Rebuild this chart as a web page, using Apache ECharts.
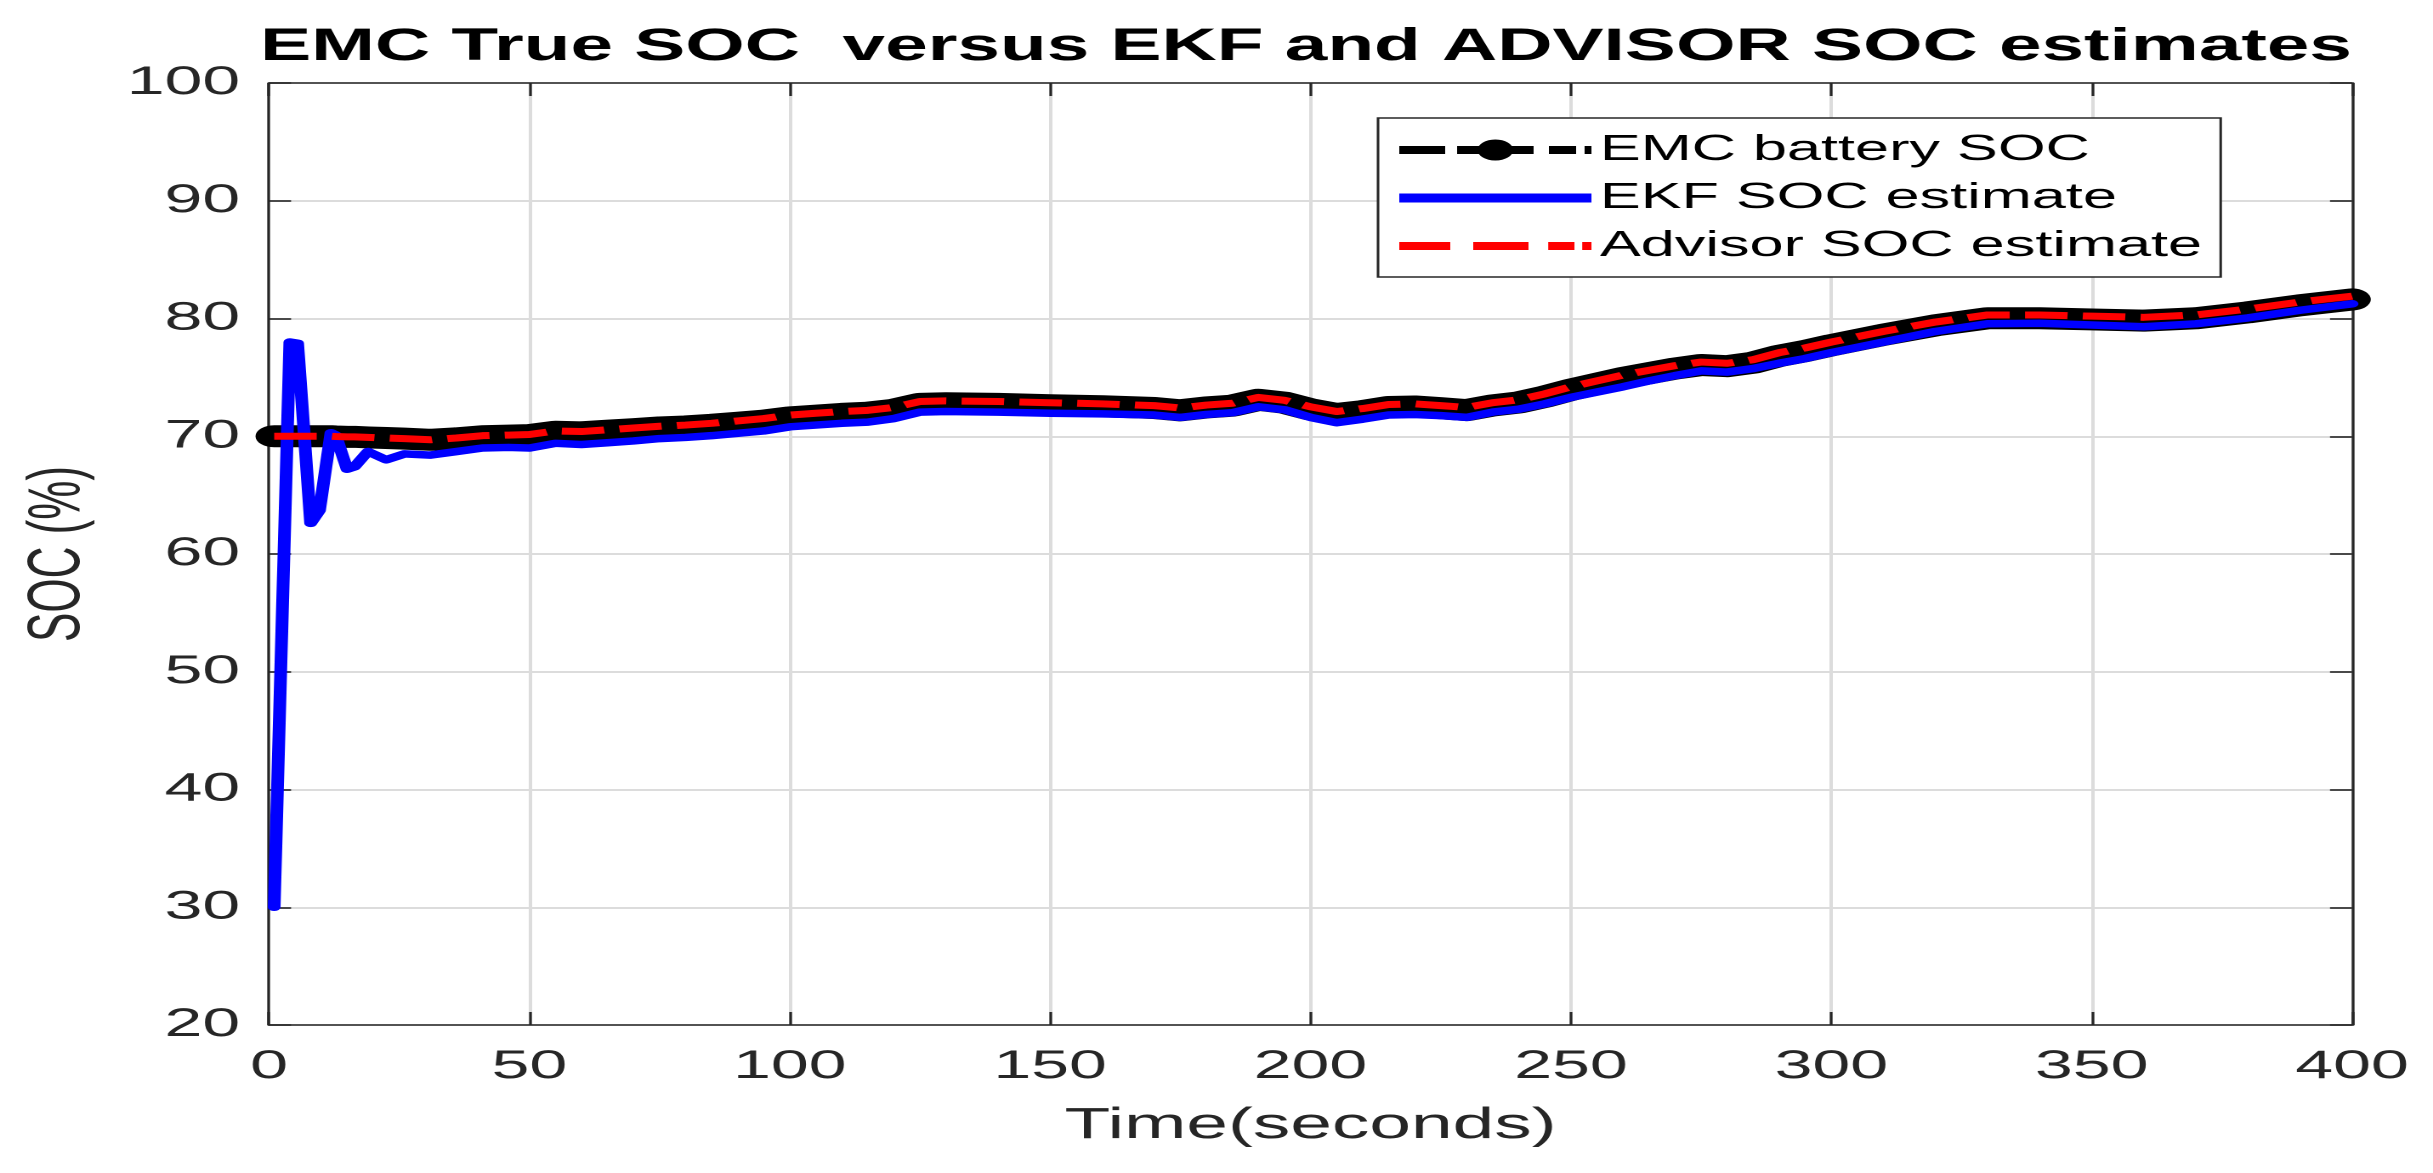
<!DOCTYPE html>
<html>
<head>
<meta charset="utf-8">
<script src="https://cdn.jsdelivr.net/npm/echarts@6/dist/echarts.min.js"></script>
<style>
html, body { margin: 0; padding: 0; background: #fff; overflow: hidden; width: 2433px; height: 1173px; }
#wrap { width: 1431px; height: 1173px; transform: scaleX(1.700210); transform-origin: 0 0; }
</style>
</head>
<body>
<div id="wrap"></div>
<script>
// ---- data ----
const times = [1, 4, 5.5, 8, 9.7, 11.9, 12.8, 15, 16.4, 19, 22.5, 26,
  31, 36, 41, 46,
  50, 55, 60, 65, 70, 75, 80, 85, 90, 95, 100, 105, 110, 115, 120, 125, 130,
  140, 150, 160, 170,
  175, 180, 185, 190, 195, 200, 205, 210, 215, 220, 225, 230, 235, 240, 245, 250, 255, 260, 265, 270, 275, 280, 285, 290, 295, 300,
  310, 320, 330, 340, 350, 360, 370, 380, 390, 400];

const emcSoc = [70.0, 70.0, 70.0, 70.0, 70.0, 70.0, 69.98, 69.95, 69.95, 69.9, 69.85, 69.8,
  69.7, 69.82, 70.0, 70.05,
  70.1, 70.38, 70.33, 70.47, 70.6, 70.75, 70.83, 70.97, 71.15, 71.33, 71.6, 71.75, 71.9, 72.0, 72.25, 72.75, 72.8,
  72.75, 72.63, 72.55, 72.4,
  72.2, 72.45, 72.6, 73.1, 72.85, 72.28, 71.88, 72.13, 72.48, 72.53, 72.38, 72.22, 72.62, 72.87, 73.36, 73.95, 74.45, 74.95, 75.35, 75.75, 76.05, 75.95, 76.25, 76.83, 77.24, 77.73,
  78.62, 79.42, 80.02, 80.02, 79.92, 79.82, 80.02, 80.52, 81.12, 81.62];

const ekfSoc = [30.0, 78.0, 77.9, 62.6, 63.7, 70.3, 70.1, 67.2, 67.4, 68.7, 68.0, 68.5,
  68.4, 68.7, 69.0, 69.05,
  69.0, 69.4, 69.3, 69.45, 69.6, 69.8, 69.9, 70.05, 70.25, 70.45, 70.8, 70.95, 71.1, 71.2, 71.5, 72.05, 72.1,
  72.05, 71.95, 71.9, 71.8,
  71.6, 71.85, 72.0, 72.5, 72.25, 71.6, 71.15, 71.45, 71.8, 71.85, 71.75, 71.6, 72.05, 72.3, 72.75, 73.3, 73.75, 74.2, 74.7, 75.15, 75.55, 75.45, 75.75, 76.2, 76.6, 77.1,
  78.0, 78.9, 79.55, 79.6, 79.45, 79.3, 79.55, 80.05, 80.7, 81.25];

const advisorSoc = [70.0, 70.0, 70.0, 70.0, 70.0, 70.0, 69.98, 69.95, 69.95, 69.9, 69.85, 69.8,
  69.7, 69.85, 70.05, 70.1,
  70.15, 70.45, 70.4, 70.55, 70.7, 70.85, 70.95, 71.1, 71.3, 71.5, 71.8, 71.95, 72.1, 72.2, 72.45, 72.95, 73.0,
  72.95, 72.85, 72.75, 72.6,
  72.4, 72.65, 72.8, 73.3, 73.05, 72.5, 72.1, 72.35, 72.7, 72.75, 72.6, 72.45, 72.85, 73.1, 73.6, 74.2, 74.7, 75.2, 75.6, 76.0, 76.3, 76.2, 76.5, 77.1, 77.5, 78.0,
  78.9, 79.7, 80.3, 80.3, 80.2, 80.1, 80.3, 80.8, 81.4, 81.9];

const xTickLabels = ['0', '50', '100', '150', '200', '250', '300', '350', '400'];
const yTickLabels = ['20', '30', '40', '50', '60', '70', '80', '90', '100'];

const seriesNames = ['EMC battery SOC', 'EKF SOC estimate', 'Advisor SOC estimate'];
const titleText = 'EMC True SOC  versus EKF and ADVISOR SOC estimates';
const xName = 'Time(seconds)';
const yName = 'SOC (%)';

// ---- chart ----
const FONT = '"Liberation Sans", Arial, Helvetica, sans-serif';
const AXIS_COLOR = '#262626';
const xMin = Number(xTickLabels[0]), xMax = Number(xTickLabels[xTickLabels.length - 1]);
const xStep = Number(xTickLabels[1]) - xMin;
const yMin = Number(yTickLabels[0]), yMax = Number(yTickLabels[yTickLabels.length - 1]);
const yStep = Number(yTickLabels[1]) - yMin;

const pair = (arr) => times.map((t, i) => [t, arr[i]]);

const ICON_EMC = 'path://M0,0M113,24M0,8h27v8h-27zM34,8h45v8h-45zM88,8h16v8h-16zM109,8h4v8h-4zM46,12a10.5,10.5 0 1,1 21,0a10.5,10.5 0 1,1 -21,0z';
const ICON_EKF = 'path://M0,0M113,24M0,7.5h113v9h-113z';
const ICON_ADV = 'path://M0,0M113,24M0,8h30v8h-30zM43.5,8h32.5v8h-32.5zM87.6,8h15.4v8h-15.4zM107.6,8h5.4v8h-5.4z';

const axisLine = { show: true, onZero: false, lineStyle: { color: AXIS_COLOR, width: 1.6 } };
const axisTick = { show: true, inside: true, length: 13, lineStyle: { color: AXIS_COLOR, width: 1.6 } };
const gridLine = { show: true, lineStyle: { color: '#dcdcdc', width: 2 } };

const chart = echarts.init(document.getElementById('wrap'), null, { renderer: 'canvas', devicePixelRatio: 2 });
chart.setOption({
  animation: false,
  backgroundColor: '#fff',
  title: {
    text: titleText, left: 153, top: 25, padding: 0,
    textStyle: { fontSize: 45, lineHeight: 45, fontWeight: 'bold', color: '#000', fontFamily: FONT }
  },
  grid: { left: 158.2, right: 47.6, top: 83, bottom: 148, containLabel: false, outerBoundsMode: 'none' },
  legend: {
    orient: 'vertical', left: 810.5, top: 118,
    padding: [14, 11, 13, 12.5],
    itemWidth: 113, itemHeight: 24, itemGap: 12,
    backgroundColor: '#fff', borderColor: AXIS_COLOR, borderWidth: 1.5, borderRadius: 0,
    selectedMode: false,
    itemStyle: { borderWidth: 0 },
    textStyle: { fontSize: 36, lineHeight: 36, color: '#000', fontFamily: FONT },
    data: [
      { name: seriesNames[0], icon: ICON_EMC, itemStyle: { color: '#000000', borderWidth: 0 } },
      { name: seriesNames[1], icon: ICON_EKF, itemStyle: { color: '#0000ff', borderWidth: 0 } },
      { name: seriesNames[2], icon: ICON_ADV, itemStyle: { color: '#ff0000', borderWidth: 0 } }
    ]
  },
  xAxis: [
    {
      type: 'value', min: xMin, max: xMax, interval: xStep, position: 'bottom',
      axisLine, axisTick, splitLine: gridLine,
      axisLabel: { fontSize: 40, lineHeight: 40, color: AXIS_COLOR, margin: 22, fontFamily: FONT },
      name: xName, nameLocation: 'middle', nameGap: 79,
      nameTextStyle: { fontSize: 44, lineHeight: 44, color: AXIS_COLOR, fontFamily: FONT }
    },
    {
      type: 'value', min: xMin, max: xMax, interval: xStep, position: 'top',
      axisLine, axisTick, splitLine: { show: false }, axisLabel: { show: false }
    }
  ],
  yAxis: [
    {
      type: 'value', min: yMin, max: yMax, interval: yStep, position: 'left',
      axisLine, axisTick, splitLine: gridLine,
      axisLabel: { fontSize: 40, lineHeight: 40, color: AXIS_COLOR, margin: 17, fontFamily: FONT },
      name: yName, nameLocation: 'middle', nameRotate: 90, nameGap: 102,
      nameTextStyle: { fontSize: 44, lineHeight: 44, color: AXIS_COLOR, fontFamily: FONT }
    },
    {
      type: 'value', min: yMin, max: yMax, interval: yStep, position: 'right',
      axisLine, axisTick, splitLine: { show: false }, axisLabel: { show: false }
    }
  ],
  series: [
    {
      name: seriesNames[0], type: 'line', data: pair(emcSoc), symbol: 'none', clip: false, z: 2, silent: true,
      color: '#000000',
      lineStyle: { color: '#000000', width: 22, cap: 'round', join: 'round' }
    },
    {
      name: seriesNames[1], type: 'line', data: pair(ekfSoc), symbol: 'none', z: 3, silent: true,
      color: '#0000ff',
      lineStyle: { color: '#0000ff', width: 7.5, cap: 'round', join: 'round' }
    },
    {
      name: seriesNames[2], type: 'line', data: pair(advisorSoc), symbol: 'none', z: 4, silent: true,
      color: '#ff0000',
      lineStyle: { color: '#ff0000', width: 7, type: [25, 9], join: 'round' }
    }
  ]
});
</script>
</body>
</html>
